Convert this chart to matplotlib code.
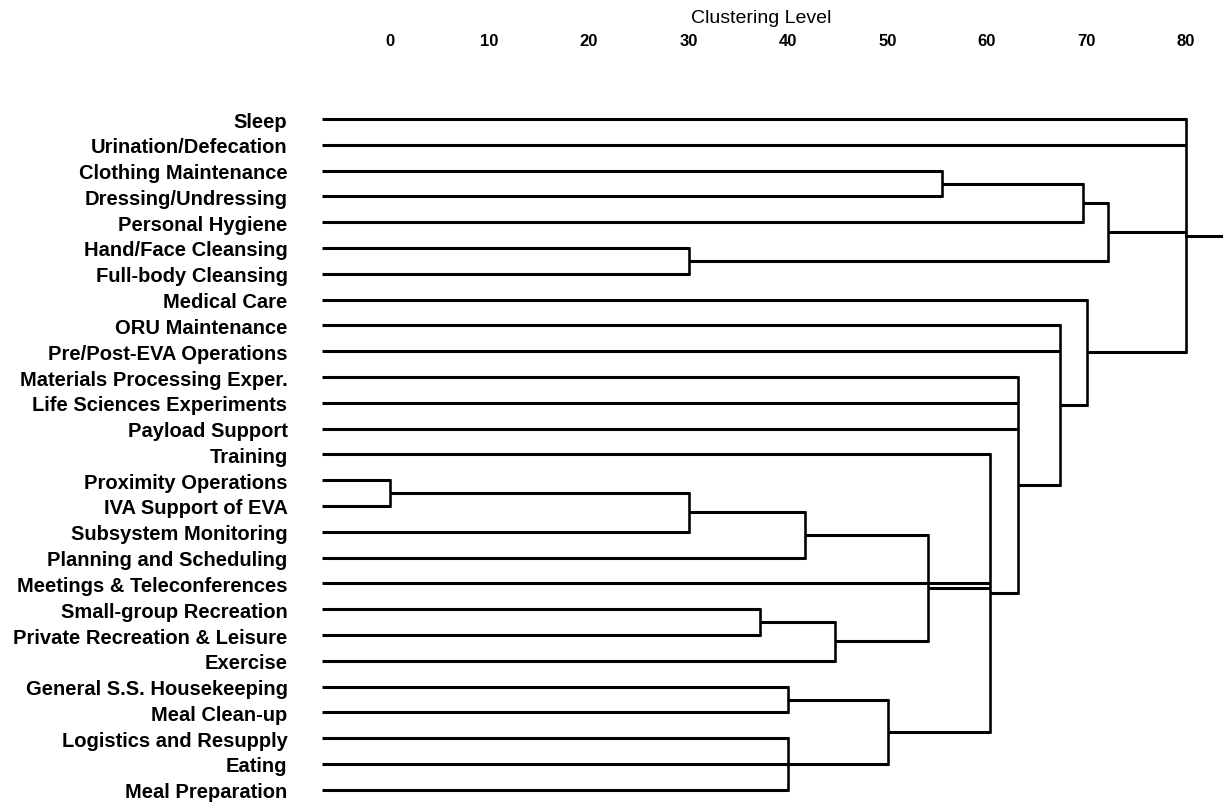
import matplotlib
matplotlib.use("Agg")
import matplotlib.pyplot as plt

plt.rcParams['font.family'] = ['Liberation Sans', 'DejaVu Sans']

# leaves, top to bottom
activities = [
    "Sleep", "Urination/Defecation", "Clothing Maintenance", "Dressing/Undressing",
    "Personal Hygiene", "Hand/Face Cleansing", "Full-body Cleansing", "Medical Care",
    "ORU Maintenance", "Pre/Post-EVA Operations", "Materials Processing Exper.",
    "Life Sciences Experiments", "Payload Support", "Training", "Proximity Operations",
    "IVA Support of EVA", "Subsystem Monitoring", "Planning and Scheduling",
    "Meetings & Teleconferences", "Small-group Recreation", "Private Recreation & Leisure",
    "Exercise", "General S.S. Housekeeping", "Meal Clean-up", "Logistics and Resupply",
    "Eating", "Meal Preparation",
]

# merges: members and clustering level; "m<k>" refers to the k-th merge
merge_members = [
    ["Clothing Maintenance", "Dressing/Undressing"],                    # m0
    ["m0", "Personal Hygiene"],                                          # m1
    ["Hand/Face Cleansing", "Full-body Cleansing"],                      # m2
    ["m1", "m2"],                                                        # m3
    ["Proximity Operations", "IVA Support of EVA"],                      # m4
    ["m4", "Subsystem Monitoring"],                                      # m5
    ["m5", "Planning and Scheduling"],                                   # m6
    ["Small-group Recreation", "Private Recreation & Leisure"],          # m7
    ["m7", "Exercise"],                                                  # m8
    ["m6", "m8"],                                                        # m9
    ["General S.S. Housekeeping", "Meal Clean-up"],                      # m10
    ["Logistics and Resupply", "Eating", "Meal Preparation"],            # m11
    ["m10", "m11"],                                                      # m12
    ["Training", "m9", "Meetings & Teleconferences", "m12"],             # m13
    ["Materials Processing Exper.", "Life Sciences Experiments",
     "Payload Support", "m13"],                                          # m14
    ["ORU Maintenance", "Pre/Post-EVA Operations", "m14"],               # m15
    ["Medical Care", "m15"],                                             # m16
    ["Sleep", "Urination/Defecation", "m3", "m16"],                      # m17
]
merge_levels = [55.5, 69.6, 30, 72.2, 0, 30, 41.7, 37.2, 44.7, 54.1,
                40, 40, 50, 60.3, 63.1, 67.3, 70, 80]

level_ticks = [0, 10, 20, 30, 40, 50, 60, 70, 80]

W, H = 1223, 803
fig = plt.figure(figsize=(W / 100, H / 100), dpi=100)
# scan layout: level 0 at x=390, 9.95 px per unit; leaves 25.8 px apart from y=120
ax_l, ax_t = 300, 60
ax = fig.add_axes([ax_l / W, 0, 1 - ax_l / W, 1 - ax_t / H])
x0, xs = 390, 9.95
y0, ys = 120, 25.8
ax.set_xlim((ax_l - x0) / xs, (W - x0) / xs)
ax.set_ylim((H - y0) / ys, (ax_t - y0) / ys)

leaf_start = -6.8
lw = 2.2
pos = {name: i for i, name in enumerate(activities)}
height = {name: leaf_start for name in activities}

for k, (members, lev) in enumerate(zip(merge_members, merge_levels)):
    ys_m = []
    for m in members:
        y = pos[m]
        ax.plot([height[m], lev], [y, y], color='black', lw=lw, solid_capstyle='butt')
        ys_m.append(y)
    ax.plot([lev, lev], [min(ys_m), max(ys_m)], color='black', lw=lw * 0.85)
    pos[f"m{k}"] = (min(ys_m) + max(ys_m)) / 2
    height[f"m{k}"] = lev

root = f"m{len(merge_members) - 1}"
ax.plot([merge_levels[-1], ax.get_xlim()[1]], [pos[root], pos[root]], color='black', lw=lw)

ax.set_yticks(range(len(activities)))
ax.set_yticklabels(activities, fontsize=14.5, fontweight='bold')
ax.tick_params(axis='y', length=0, pad=9)

ax.xaxis.tick_top()
ax.set_xticks(level_ticks)
ax.set_xticklabels([str(t) for t in level_ticks], fontsize=12, fontweight='bold')
ax.tick_params(axis='x', length=0, pad=8)
ax.xaxis.set_label_position('top')
ax.set_xlabel("Clustering Level", fontsize=14, labelpad=8)

for s in ax.spines.values():
    s.set_visible(False)

fig.savefig("out.png", dpi=100)
